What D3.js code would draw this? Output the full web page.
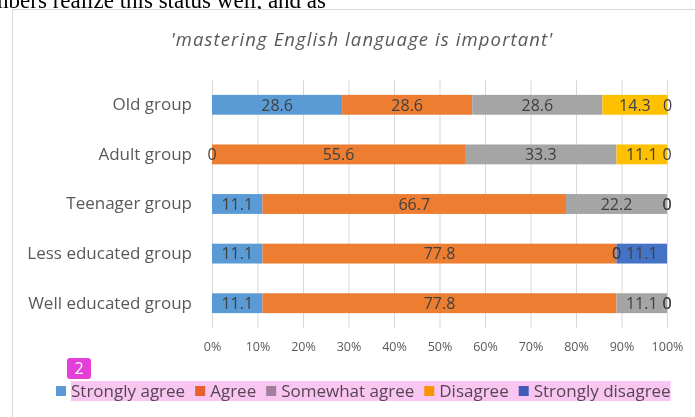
<!DOCTYPE html>
<html>
<head>
<meta charset="utf-8">
<script src="https://cdn.jsdelivr.net/npm/d3@7"></script>
<style>
  body { margin: 0; background: #fff; overflow: hidden; }
  svg { display: block; }
  .lbl { font-family: "Open Sans", Lato, sans-serif; }
</style>
</head>
<body>
<div id="chart"></div>
<script>
var groups = ["Old group", "Adult group", "Teenager group", "Less educated group", "Well educated group"];
var answers = ["Strongly agree", "Agree", "Somewhat agree", "Disagree", "Strongly disagree"];
var stronglyAgree    = [28.6, 0,    11.1, 11.1, 11.1];
var agree            = [28.6, 55.6, 66.7, 77.8, 77.8];
var somewhatAgree    = [28.6, 33.3, 22.2, 0,    11.1];
var disagree         = [14.3, 11.1, 0,    0,    0];
var stronglyDisagree = [0,    0,    0,    11.1, 0];
var tickValues = [0, 10, 20, 30, 40, 50, 60, 70, 80, 90, 100];
var colors = ["#5b9bd5", "#ed7d31", "#a5a5a5", "#ffc000", "#4472c4"];

var rows = groups.map(function(g, i) {
  return {
    group: g,
    "Strongly agree": stronglyAgree[i],
    "Agree": agree[i],
    "Somewhat agree": somewhatAgree[i],
    "Disagree": disagree[i],
    "Strongly disagree": stronglyDisagree[i]
  };
});

var width = 695, height = 417;
var svg = d3.select("#chart").append("svg")
    .attr("width", width)
    .attr("height", height);

// bit of the paper text above the figure
svg.append("text")
    .attr("x", 326).attr("y", 8)
    .attr("text-anchor", "end")
    .style("font-family", "'Liberation Serif', serif")
    .style("font-size", "23px")
    .attr("fill", "#000")
    .text("members realize this status well, and as");

// chart frame
svg.append("rect")
    .attr("x", 12.5).attr("y", 9.5)
    .attr("width", 700).attr("height", 420)
    .attr("fill", "#fff")
    .attr("stroke", "#d9d9d9");

svg.append("text")
    .attr("class", "lbl")
    .attr("x", 362).attr("y", 46)
    .attr("text-anchor", "middle")
    .style("font-size", "18.5px")
    .style("letter-spacing", "1.1px")
    .style("font-style", "italic")
    .attr("fill", "#595959")
    .text("'mastering English language is important'");

var x = d3.scaleLinear().domain([0, 100]).range([212, 667]);
var y = d3.scaleBand().domain(groups).range([80, 328]).paddingInner(0.6).paddingOuter(0.3);
var color = d3.scaleOrdinal().domain(answers).range(colors);

// gridlines
svg.append("g")
  .selectAll("line")
  .data(tickValues)
  .enter().append("line")
    .attr("x1", function(d) { return x(d) + 0.5; })
    .attr("x2", function(d) { return x(d) + 0.5; })
    .attr("y1", 80).attr("y2", 328)
    .attr("stroke", "#d9d9d9");

var series = d3.stack().keys(answers)(rows);

var layer = svg.append("g")
  .selectAll("g")
  .data(series)
  .enter().append("g")
    .attr("fill", function(d) { return color(d.key); });

layer.selectAll("rect")
  .data(function(d) { return d; })
  .enter().append("rect")
    .attr("x", function(d) { return x(d[0]); })
    .attr("y", function(d) { return y(d.data.group); })
    .attr("width", function(d) { return x(d[1]) - x(d[0]); })
    .attr("height", y.bandwidth());

// value labels, zeros included like the original
svg.append("g")
  .selectAll("g")
  .data(series)
  .enter().append("g")
  .selectAll("text")
  .data(function(d) { return d; })
  .enter().append("text")
    .attr("class", "lbl")
    .attr("x", function(d) { return x((d[0] + d[1]) / 2); })
    .attr("y", function(d) { return y(d.data.group) + y.bandwidth() / 2; })
    .attr("dy", "0.36em")
    .attr("text-anchor", "middle")
    .style("font-size", "16px")
    .attr("fill", "#404040")
    .text(function(d) { var v = +(d[1] - d[0]).toFixed(1); return v; });

// category axis
var yAxis = svg.append("g")
    .attr("transform", "translate(212,0)")
    .call(d3.axisLeft(y).tickSize(0).tickPadding(20));
yAxis.select(".domain").remove();
yAxis.selectAll("text")
    .attr("class", "lbl")
    .style("font-size", "17px")
    .attr("fill", "#595959");

// value axis
var xAxis = svg.append("g")
    .attr("transform", "translate(0,342)")
    .call(d3.axisBottom(x).tickValues(tickValues).tickSize(0).tickPadding(0)
      .tickFormat(function(d) { return d + "%"; }));
xAxis.select(".domain").remove();
xAxis.selectAll("text")
    .attr("class", "lbl")
    .style("font-size", "12.5px")
    .attr("fill", "#595959");

// legend
var legend = svg.append("g");
var lx = 56;
answers.forEach(function(a, i) {
  legend.append("rect")
      .attr("x", lx).attr("y", 386)
      .attr("width", 10).attr("height", 10)
      .attr("fill", colors[i]);
  var t = legend.append("text")
      .attr("class", "lbl")
      .attr("x", lx + 15).attr("y", 397)
      .style("font-size", "17px")
      .attr("fill", "#595959")
      .text(a);
  lx += 15 + t.node().getComputedTextLength() + 10;
});

// the highlight over the legend text
svg.append("rect")
    .attr("x", 71).attr("y", 381)
    .attr("width", lx - 10 - 71).attr("height", 20)
    .attr("fill", "#f9c6f2")
    .style("mix-blend-mode", "multiply");

svg.append("rect")
    .attr("x", 67).attr("y", 358)
    .attr("width", 24).attr("height", 21)
    .attr("rx", 3)
    .attr("fill", "#e33fd8");
svg.append("text")
    .attr("class", "lbl")
    .attr("x", 79).attr("y", 374)
    .attr("text-anchor", "middle")
    .style("font-size", "16px")
    .attr("fill", "#fff")
    .text("2");
</script>
</body>
</html>
